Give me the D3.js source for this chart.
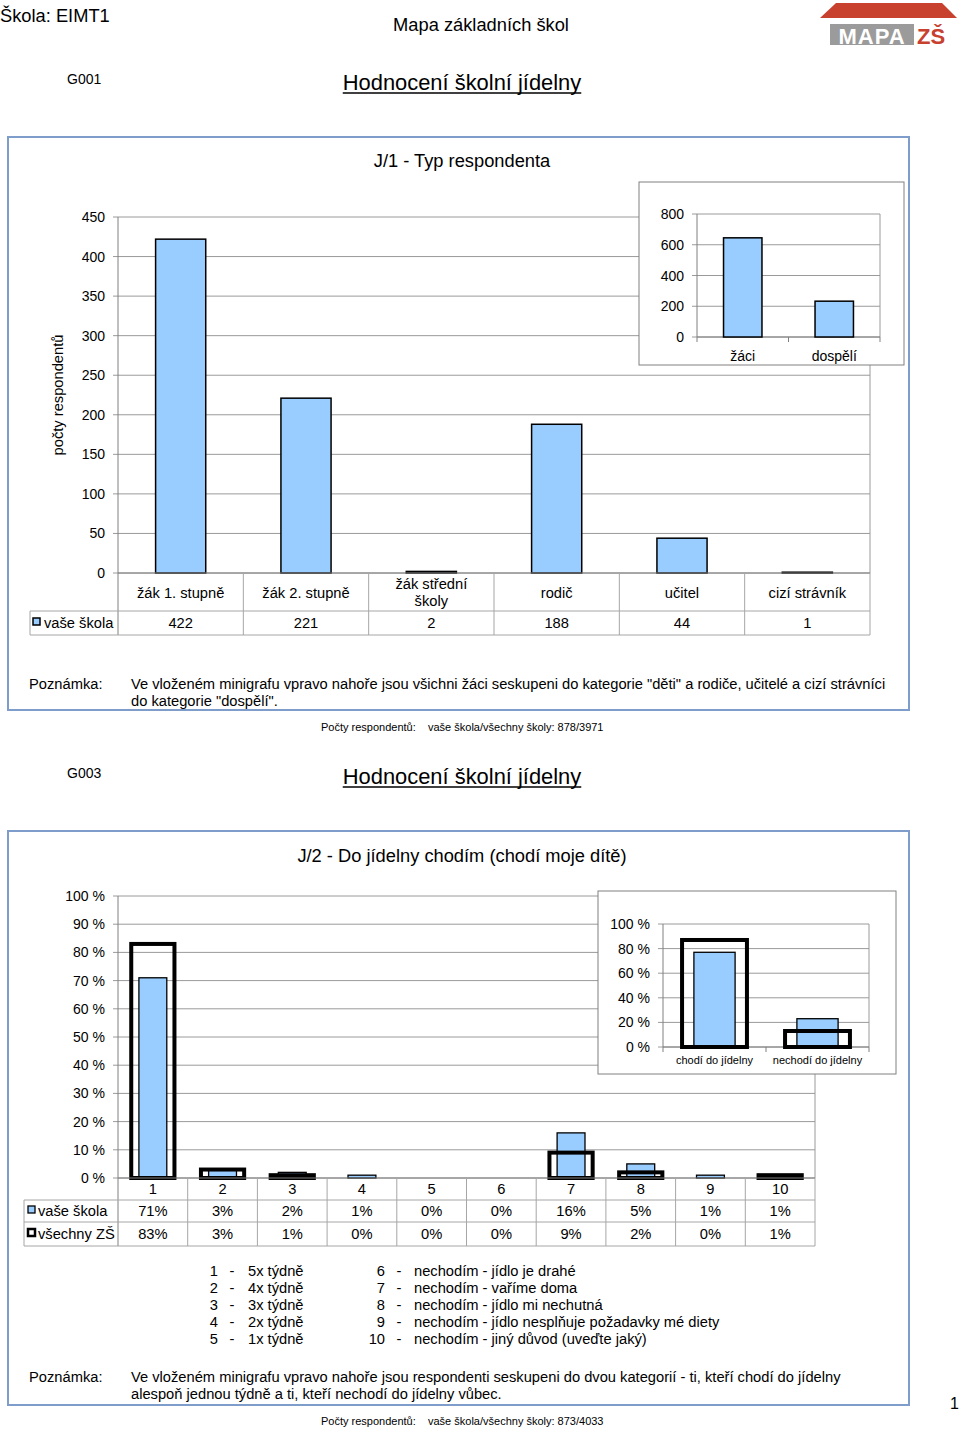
<!DOCTYPE html>
<html><head><meta charset="utf-8">
<script src="https://cdn.jsdelivr.net/npm/d3@7"></script>
<style>
html,body{margin:0;padding:0;background:#fff;}
svg{display:block;font-family:"Liberation Sans",Arial,sans-serif;}
</style></head>
<body>
<script>
// ---------- DATA ----------
const cats1 = ["žák 1. stupně","žák 2. stupně","žák střední školy","rodič","učitel","cizí strávník"];
const catLines1 = [["žák 1. stupně"],["žák 2. stupně"],["žák střední","školy"],["rodič"],["učitel"],["cizí strávník"]];
const vals1 = [422,221,2,188,44,1];
const ticks1 = [0,50,100,150,200,250,300,350,400,450];
const insetCats1 = ["žáci","dospělí"];
const insetVals1 = [645,233];
const insetTicks1 = [0,200,400,600,800];

const cats2 = ["1","2","3","4","5","6","7","8","9","10"];
const school2 = [71,3,2,1,0,0,16,5,1,1];
const all2 = [83,3,1,0,0,0,9,2,0,1];
const ticks2 = [0,10,20,30,40,50,60,70,80,90,100];
const insetCats2 = ["chodí do jídelny","nechodí do jídelny"];
const insetSchool2 = [77,23];
const insetAll2 = [87,13];
const insetTicks2 = [0,20,40,60,80,100];
const legendLeft = ["5x týdně","4x týdně","3x týdně","2x týdně","1x týdně"];
const legendRight = ["nechodím - jídlo je drahé","nechodím - vaříme doma","nechodím - jídlo mi nechutná","nechodím - jídlo nesplňuje požadavky mé diety","nechodím - jiný důvod (uveďte jaký)"];
const seriesNames = ["vaše škola","všechny ZŠ"];

// ---------- STYLE ----------
const BLUE = "#99ccff", GRID = "#9a9a9a", AXIS = "#808080", TBL = "#a6a6a6", FRAME = "#7f9dcb";
const FS = 14.7, TICK = 14, HEAD = 18.3;

const svg = d3.select("body").append("svg").attr("width",960).attr("height",1429);

function txt(x,y,s,size,anchor){
  return svg.append("text").attr("x",x).attr("y",y).attr("font-size",size)
    .attr("text-anchor",anchor||"start").attr("fill","#000").text(s);
}
function underlinedTitle(cx,y,s){
  const t = txt(cx,y,s,21.9,"middle");
  const w = t.node().getComputedTextLength();
  svg.append("line").attr("x1",cx-w/2).attr("x2",cx+w/2).attr("y1",y+3).attr("y2",y+3)
    .attr("stroke","#000").attr("stroke-width",1.3);
}

// ---------- HEADER ----------
txt(0,22,"Škola: EIMT1",HEAD);
txt(481,31,"Mapa základních škol",HEAD,"middle");
// logo
svg.append("polygon").attr("points","820,18 836,3 942,3 957,18").attr("fill","#c8402e");
svg.append("rect").attr("x",830).attr("y",24).attr("width",84).attr("height",21).attr("fill","#9b9b9b");
svg.append("text").attr("x",872).attr("y",44).attr("text-anchor","middle").attr("font-size",22)
  .attr("font-weight","bold").attr("fill","#fff").attr("letter-spacing",1).text("MAPA");
svg.append("text").attr("x",931).attr("y",44).attr("text-anchor","middle").attr("font-size",22)
  .attr("font-weight","bold").attr("fill","#c8402e").text("ZŠ");

// ---------- CHART 1 ----------
txt(67,84,"G001",TICK);
underlinedTitle(462,90,"Hodnocení školní jídelny");
svg.append("rect").attr("x",8).attr("y",137).attr("width",901).attr("height",573)
  .attr("fill","none").attr("stroke",FRAME).attr("stroke-width",2);
txt(462,167,"J/1 - Typ respondenta",HEAD,"middle");

const x1 = d3.scaleBand().domain(cats1).range([118,870]).paddingInner(0).paddingOuter(0);
const y1 = d3.scaleLinear().domain([0,450]).range([573,217]);
const g1 = svg.append("g");
g1.selectAll("line.grid").data(ticks1).join("line")
  .attr("x1",113).attr("x2",870).attr("y1",d=>y1(d)).attr("y2",d=>y1(d))
  .attr("stroke",GRID).attr("stroke-width",1);
g1.selectAll("text.yl").data(ticks1).join("text")
  .attr("x",105).attr("y",d=>y1(d)+5).attr("text-anchor","end").attr("font-size",TICK).text(d=>d);
g1.append("line").attr("x1",870).attr("x2",870).attr("y1",217).attr("y2",573).attr("stroke",GRID);
g1.append("line").attr("x1",118).attr("x2",118).attr("y1",217).attr("y2",635).attr("stroke",AXIS);
g1.selectAll("rect.bar").data(vals1).join("rect")
  .attr("x",(d,i)=>x1(cats1[i])+x1.bandwidth()*0.3)
  .attr("width",x1.bandwidth()*0.4)
  .attr("y",d=>y1(d)).attr("height",d=>y1(0)-y1(d))
  .attr("fill",BLUE).attr("stroke","#000").attr("stroke-width",1.5);
svg.append("text").attr("transform","translate(63,395) rotate(-90)").attr("text-anchor","middle")
  .attr("font-size",FS).text("počty respondentů");
// table 1
g1.append("line").attr("x1",118).attr("x2",870).attr("y1",573).attr("y2",573).attr("stroke",AXIS);
[611,635].forEach(yy=>g1.append("line").attr("x1",30).attr("x2",870).attr("y1",yy).attr("y2",yy).attr("stroke",TBL));
g1.append("line").attr("x1",30).attr("x2",30).attr("y1",611).attr("y2",635).attr("stroke",TBL);
cats1.forEach((c,i)=>{
  const xe = x1(c)+x1.bandwidth();
  g1.append("line").attr("x1",xe).attr("x2",xe).attr("y1",573).attr("y2",635).attr("stroke",TBL);
  const lines = catLines1[i];
  const cx = x1(c)+x1.bandwidth()/2;
  if(lines.length===1){ txt(cx,598,lines[0],FS,"middle"); }
  else { txt(cx,589,lines[0],FS,"middle"); txt(cx,606,lines[1],FS,"middle"); }
  txt(cx,628,vals1[i],FS,"middle");
});
g1.append("rect").attr("x",33).attr("y",618).attr("width",7).attr("height",7).attr("fill",BLUE).attr("stroke","#000").attr("stroke-width",1.5);
txt(44,628,seriesNames[0],FS);

// inset 1
svg.append("rect").attr("x",639).attr("y",182).attr("width",265).attr("height",183)
  .attr("fill","#fff").attr("stroke",AXIS).attr("stroke-width",1);
const ix1 = d3.scaleBand().domain(insetCats1).range([697,880]);
const iy1 = d3.scaleLinear().domain([0,800]).range([337,214]);
svg.selectAll("line.ig1").data(insetTicks1).join("line")
  .attr("x1",692).attr("x2",880).attr("y1",d=>iy1(d)).attr("y2",d=>iy1(d)).attr("stroke",GRID);
svg.append("line").attr("x1",880).attr("x2",880).attr("y1",214).attr("y2",337).attr("stroke",GRID);
svg.append("line").attr("x1",697).attr("x2",697).attr("y1",214).attr("y2",337).attr("stroke",AXIS);
svg.append("line").attr("x1",697).attr("x2",880).attr("y1",337).attr("y2",337).attr("stroke",AXIS);
[697, ix1(insetCats1[1]), 880].forEach(xx=>svg.append("line").attr("x1",xx).attr("x2",xx).attr("y1",337).attr("y2",342).attr("stroke",AXIS));
svg.selectAll("text.iyl1").data(insetTicks1).join("text")
  .attr("x",684).attr("y",d=>iy1(d)+5).attr("text-anchor","end").attr("font-size",TICK).text(d=>d);
svg.selectAll("rect.ib1").data(insetVals1).join("rect")
  .attr("x",(d,i)=>ix1(insetCats1[i])+ix1.bandwidth()*0.29).attr("width",ix1.bandwidth()*0.42)
  .attr("y",d=>iy1(d)).attr("height",d=>iy1(0)-iy1(d))
  .attr("fill",BLUE).attr("stroke","#000").attr("stroke-width",1.5);
insetCats1.forEach(c=>txt(ix1(c)+ix1.bandwidth()/2,361,c,TICK,"middle"));

// notes 1
txt(29,689,"Poznámka:",FS);
txt(131,689,"Ve vloženém minigrafu vpravo nahoře jsou všichni žáci seskupeni do kategorie \"děti\" a rodiče, učitelé a cizí strávníci",FS);
txt(131,706,"do kategorie \"dospělí\".",FS);
txt(321,731,"Počty respondentů:",11);
txt(428,731,"vaše škola/všechny školy: 878/3971",11);

// ---------- CHART 2 ----------
txt(67,778,"G003",TICK);
underlinedTitle(462,784,"Hodnocení školní jídelny");
svg.append("rect").attr("x",8).attr("y",831).attr("width",901).attr("height",574)
  .attr("fill","none").attr("stroke",FRAME).attr("stroke-width",2);
txt(462,862,"J/2 - Do jídelny chodím (chodí moje dítě)",HEAD,"middle");

const x2 = d3.scaleBand().domain(cats2).range([118,815]);
const y2 = d3.scaleLinear().domain([0,100]).range([1178,896]);
svg.selectAll("line.g2").data(ticks2).join("line")
  .attr("x1",113).attr("x2",815).attr("y1",d=>y2(d)).attr("y2",d=>y2(d)).attr("stroke",GRID);
svg.append("line").attr("x1",815).attr("x2",815).attr("y1",896).attr("y2",1178).attr("stroke",GRID);
svg.append("line").attr("x1",118).attr("x2",118).attr("y1",896).attr("y2",1246).attr("stroke",AXIS);
svg.selectAll("text.yl2").data(ticks2).join("text")
  .attr("x",105).attr("y",d=>y2(d)+5).attr("text-anchor","end").attr("font-size",TICK).text(d=>d+" %");
svg.selectAll("rect.b2s").data(school2).join("rect")
  .attr("x",(d,i)=>x2(cats2[i])+x2.bandwidth()*0.3).attr("width",x2.bandwidth()*0.4)
  .attr("y",d=>y2(d)).attr("height",d=>y2(0)-y2(d))
  .attr("fill",BLUE).attr("stroke","#000").attr("stroke-width",1.3);
svg.selectAll("rect.b2a").data(all2).join("rect")
  .attr("x",(d,i)=>x2(cats2[i])+x2.bandwidth()*0.19).attr("width",x2.bandwidth()*0.62)
  .attr("y",d=>y2(d)).attr("height",d=>y2(0)-y2(d))
  .attr("fill","none").attr("stroke","#000").attr("stroke-width",4);
// table 2
svg.append("line").attr("x1",118).attr("x2",815).attr("y1",1178).attr("y2",1178).attr("stroke",AXIS);
[1200,1222,1246].forEach(yy=>svg.append("line").attr("x1",24).attr("x2",815).attr("y1",yy).attr("y2",yy).attr("stroke",TBL));
svg.append("line").attr("x1",24).attr("x2",24).attr("y1",1200).attr("y2",1246).attr("stroke",TBL);
cats2.forEach((c,i)=>{
  const xe = x2(c)+x2.bandwidth(), cx = x2(c)+x2.bandwidth()/2;
  svg.append("line").attr("x1",xe).attr("x2",xe).attr("y1",1178).attr("y2",1246).attr("stroke",TBL);
  txt(cx,1194,c,FS,"middle");
  txt(cx,1216,school2[i]+"%",FS,"middle");
  txt(cx,1239,all2[i]+"%",FS,"middle");
});
svg.append("rect").attr("x",28).attr("y",1206).attr("width",7).attr("height",7).attr("fill",BLUE).attr("stroke","#000").attr("stroke-width",1.3);
txt(38,1216,seriesNames[0],FS);
svg.append("rect").attr("x",28).attr("y",1229).attr("width",7).attr("height",7).attr("fill","#fff").attr("stroke","#000").attr("stroke-width",2.5);
txt(38,1239,seriesNames[1],FS);

// inset 2
svg.append("rect").attr("x",598).attr("y",891).attr("width",298).attr("height",183)
  .attr("fill","#fff").attr("stroke",AXIS).attr("stroke-width",1);
const ix2 = d3.scaleBand().domain(insetCats2).range([663,869]);
const iy2 = d3.scaleLinear().domain([0,100]).range([1047,924]);
svg.selectAll("line.ig2").data(insetTicks2).join("line")
  .attr("x1",658).attr("x2",869).attr("y1",d=>iy2(d)).attr("y2",d=>iy2(d)).attr("stroke",GRID);
svg.append("line").attr("x1",869).attr("x2",869).attr("y1",924).attr("y2",1047).attr("stroke",GRID);
svg.append("line").attr("x1",663).attr("x2",663).attr("y1",924).attr("y2",1047).attr("stroke",AXIS);
svg.append("line").attr("x1",663).attr("x2",869).attr("y1",1047).attr("y2",1047).attr("stroke",AXIS);
[663, ix2(insetCats2[1]), 869].forEach(xx=>svg.append("line").attr("x1",xx).attr("x2",xx).attr("y1",1047).attr("y2",1052).attr("stroke",AXIS));
svg.selectAll("text.iyl2").data(insetTicks2).join("text")
  .attr("x",650).attr("y",d=>iy2(d)+5).attr("text-anchor","end").attr("font-size",TICK).text(d=>d+" %");
svg.selectAll("rect.ib2s").data(insetSchool2).join("rect")
  .attr("x",(d,i)=>ix2(insetCats2[i])+ix2.bandwidth()*0.3).attr("width",ix2.bandwidth()*0.4)
  .attr("y",d=>iy2(d)).attr("height",d=>iy2(0)-iy2(d))
  .attr("fill",BLUE).attr("stroke","#000").attr("stroke-width",1.3);
svg.selectAll("rect.ib2a").data(insetAll2).join("rect")
  .attr("x",(d,i)=>ix2(insetCats2[i])+ix2.bandwidth()*0.185).attr("width",ix2.bandwidth()*0.63)
  .attr("y",d=>iy2(d)).attr("height",d=>iy2(0)-iy2(d))
  .attr("fill","none").attr("stroke","#000").attr("stroke-width",4);
insetCats2.forEach(c=>txt(ix2(c)+ix2.bandwidth()/2,1064,c,11,"middle"));

// legend list
legendLeft.forEach((s,i)=>{
  const yy = 1276+i*17;
  txt(218,yy,String(i+1),FS,"end");
  txt(232,yy,"-",FS,"middle");
  txt(248,yy,s,FS);
});
legendRight.forEach((s,i)=>{
  const yy = 1276+i*17;
  txt(385,yy,String(i+6),FS,"end");
  txt(399,yy,"-",FS,"middle");
  txt(414,yy,s,FS);
});

// notes 2
txt(29,1382,"Poznámka:",FS);
txt(131,1382,"Ve vloženém minigrafu vpravo nahoře jsou respondenti seskupeni do dvou kategorií - ti, kteří chodí do jídelny",FS);
txt(131,1399,"alespoň jednou týdně a ti, kteří nechodí do jídelny vůbec.",FS);
txt(950,1409,"1",16);
txt(321,1425,"Počty respondentů:",11);
txt(428,1425,"vaše škola/všechny školy: 873/4033",11);
</script>
</body></html>
